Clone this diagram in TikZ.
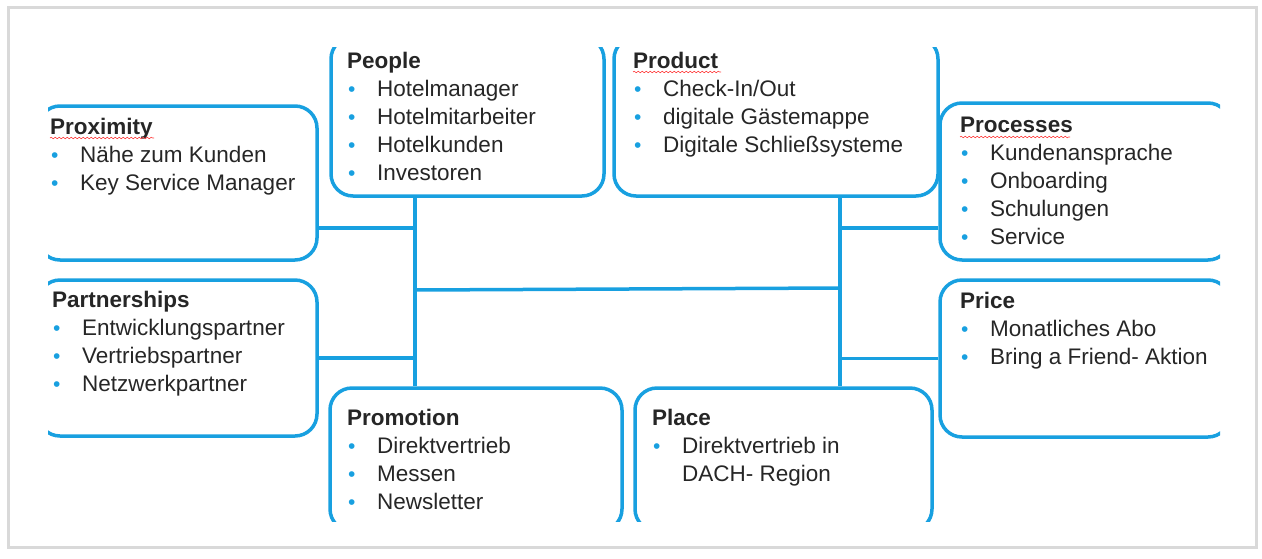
\documentclass[tikz,border=0pt]{standalone}
\usepackage{fontspec}
\setmainfont{Liberation Sans}
\usetikzlibrary{decorations.pathmorphing}
\definecolor{lineblue}{RGB}{24,160,224}
\definecolor{inkgray}{RGB}{38,38,38}
\newcommand{\bul}{\makebox[30pt][l]{\hspace{1pt}\textcolor{lineblue}{\fontsize{21}{28}\selectfont\textbullet}}}
\begin{document}
\begin{tikzpicture}[x=1pt, y=-1pt,
    box/.style={draw=lineblue, line width=3.5pt, rounded corners=22pt, inner sep=0pt},
    link/.style={draw=lineblue, line width=3.5pt},
    txt/.style={anchor=north west, align=left, inner sep=0pt, text=inkgray, font=\fontsize{22.5}{28}\selectfont},
    squiggle/.style={draw=red!75, line width=0.6pt, decorate, decoration={snake, amplitude=0.8pt, segment length=4pt}}]

  \useasboundingbox (0,0) rectangle (1262,558);
  \draw[gray!30, line width=3pt] (8,7) rectangle (1256,547);

  \begin{scope}
    \clip (48,47) rectangle (1220,521);
    \node[box, minimum width=279pt, minimum height=154pt] (prox) at (177.5,183) {};
    \node[box, minimum width=279pt, minimum height=156pt] (part) at (177.5,358) {};
    \node[box, minimum width=273pt, minimum height=159pt] (people) at (467.5,116.5) {};
    \node[box, minimum width=324pt, minimum height=159pt] (product) at (776,116.5) {};
    \node[box, minimum width=290pt, minimum height=157pt] (proc) at (1085,181.5) {};
    \node[box, minimum width=290pt, minimum height=157pt] (price) at (1085,358.5) {};
    \node[box, minimum width=292pt, minimum height=143pt] (promo) at (476,459.5) {};
    \node[box, minimum width=297pt, minimum height=143pt] (place) at (783.5,459.5) {};
  \end{scope}

  \coordinate (lhub) at (415,290);
  \coordinate (rhub) at (840,288);
  \draw[link] (people.south -| lhub) -- (promo.north -| lhub);
  \draw[link] (product.south -| rhub) -- (place.north -| rhub);
  \draw[link] (lhub) -- (rhub);
  \draw[link] ([yshift=-45pt]prox.east) coordinate (pa) -- (pa -| lhub);
  \draw[link] (part.east) -- (part.east -| lhub);
  \draw[link] ([yshift=-46.5pt]proc.west) coordinate (pb) -- (pb -| rhub);
  \draw[link] (price.west) -- (price.west -| rhub);

  \node[txt] (proxtxt) at (50,118) {\textbf{Proximity}\\\bul Nähe zum Kunden\\\bul Key Service Manager};
  \node[txt] (parttxt) at (52,291) {\textbf{Partnerships}\\\bul Entwicklungspartner\\\bul Vertriebspartner\\\bul Netzwerkpartner};
  \node[txt] (peopletxt) at (347,52) {\textbf{People}\\\bul Hotelmanager\\\bul Hotelmitarbeiter\\\bul Hotelkunden\\\bul Investoren};
  \node[txt] (producttxt) at (633,52) {\textbf{Product}\\\bul Check-In/Out\\\bul digitale Gästemappe\\\bul Digitale Schließsysteme};
  \node[txt] (proctxt) at (960,117) {\textbf{Processes}\\\bul Kundenansprache\\\bul Onboarding\\\bul Schulungen\\\bul Service};
  \node[txt] (pricetxt) at (960,292) {\textbf{Price}\\\bul Monatliches Abo\\\bul Bring a Friend- Aktion};
  \node[txt] (promotxt) at (347,409) {\textbf{Promotion}\\\bul Direktvertrieb\\\bul Messen\\\bul Newsletter};
  \node[txt] (placetxt) at (652,409) {\textbf{Place}\\\bul Direktvertrieb in\\\hspace*{30pt}DACH- Region};

  \draw[squiggle] ([yshift=-20pt]proxtxt.north west) -- ++(104,0);
  \draw[squiggle] ([yshift=-20pt]producttxt.north west) -- ++(88,0);
  \draw[squiggle] ([yshift=-20pt]proctxt.north west) -- ++(110,0);

\end{tikzpicture}
\end{document}
